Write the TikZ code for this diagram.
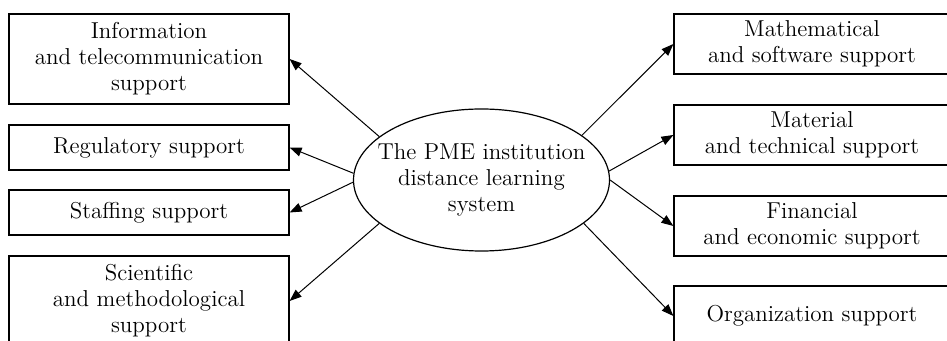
\documentclass[tikz,border=0pt]{standalone}
\usetikzlibrary{shapes,arrows.meta}
\tikzset{
    supbox/.style = {draw, line width=0.6pt, align=center, inner sep=2pt,
        font=\fontsize{11.5}{13}\selectfont},
    lbox/.style = {supbox, minimum width=140pt},
    rbox/.style = {supbox, minimum width=138pt, minimum height=30pt},
    arr/.style = {-{Triangle[length=6pt,width=4.5pt]}, line width=0.5pt}
}

\begin{document}
\begin{tikzpicture}[x=0.5pt,y=-0.5pt]
    \useasboundingbox (0,0) rectangle (947,341);

    \node[draw, ellipse, line width=0.6pt, minimum width=128pt, minimum height=71pt,
        inner xsep=-7pt, inner ysep=0pt, align=center, font=\fontsize{11.5}{13}\selectfont]
        (sys) at (481.5,180) {The PME institution\\distance learning\\system};

    % left side
    \node[lbox, minimum height=45pt] (info) at (149,59)
        {Information\\and telecommunication\\support};
    \node[lbox, minimum height=22.5pt] (reg) at (149,147.5) {Regulatory support};
    \node[lbox, minimum height=22.5pt] (staff) at (149,212.5) {Staffing support};
    \node[lbox, minimum height=45pt] (sci) at (149,301)
        {Scientific\\and methodological\\support};

    % right side
    \node[rbox] (math) at (812,44) {Mathematical\\and software support};
    \node[rbox] (mat) at (812,135) {Material\\and technical support};
    \node[rbox] (fin) at (812,226) {Financial\\and economic support};
    \node[rbox] (org) at (812,316) {Organization support};

    \draw [arr] (sys.157) -- (info.east);
    \draw [arr] (sys.177) -- (reg.east);
    \draw [arr] (sys.181) -- (staff.east);
    \draw [arr] (sys.203) -- (sci.east);

    \draw [arr] (sys.24) -- (math.west);
    \draw [arr] (sys.4) -- (mat.west);
    \draw [arr] (sys.0) -- (fin.west);
    \draw [arr] (sys.-23) -- (org.west);

\end{tikzpicture}
\end{document}
